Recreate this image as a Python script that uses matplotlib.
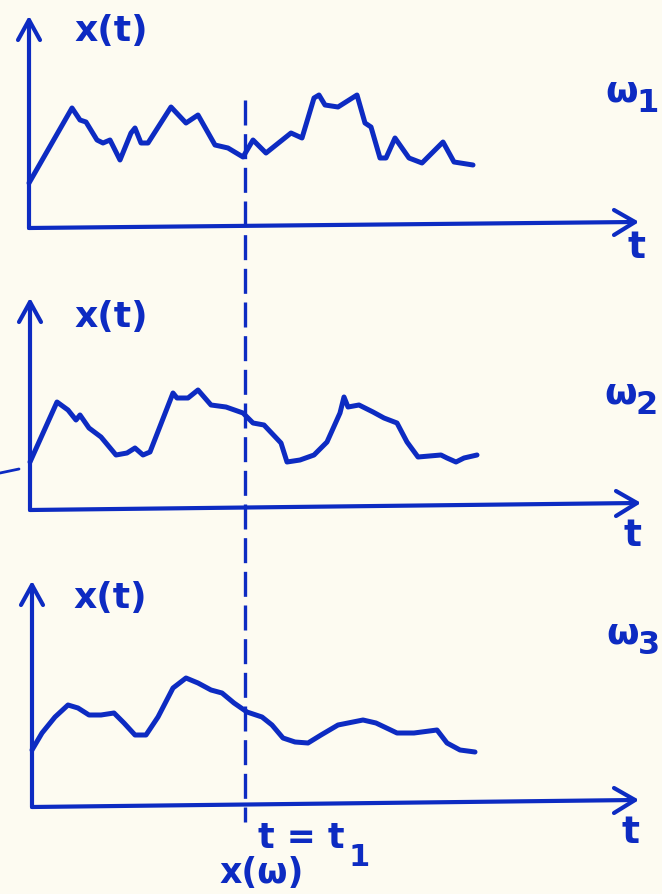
import matplotlib
matplotlib.use("Agg")
import matplotlib.pyplot as plt

# Sample paths x(t, w) (page pixel coordinates)
t_w1 = [29, 72, 80, 86, 97, 103, 110, 120, 131, 135, 141, 148, 171, 186, 198,
        215, 228, 243, 253, 266, 291, 302, 314, 319, 325, 338, 357, 365, 371,
        380, 386, 395, 409, 422, 443, 454, 473]
x_w1 = [183, 108, 120, 122, 140, 143, 140, 160, 133, 128, 143, 143, 107, 123, 115,
        145, 148, 157, 140, 153, 133, 138, 98, 95, 105, 107, 95, 123, 127,
        158, 158, 138, 158, 163, 142, 162, 165]

t_w2 = [30, 57, 68, 76, 80, 89, 101, 116, 127, 135, 143, 150, 173, 177, 188,
        198, 211, 226, 243, 253, 264, 281, 287, 300, 314, 327, 340, 344, 348,
        359, 373, 384, 397, 407, 418, 441, 447, 456, 464, 477]
x_w2 = [462, 402, 410, 420, 415, 428, 437, 455, 453, 448, 455, 452, 393, 398, 398,
        390, 405, 407, 413, 423, 425, 443, 462, 460, 455, 442, 413, 397, 407,
        405, 412, 418, 423, 442, 457, 455, 458, 462, 458, 455]

t_w3 = [32, 42, 55, 68, 78, 89, 101, 114, 124, 135, 146, 158, 173, 186, 198,
        211, 222, 234, 247, 262, 272, 283, 295, 308, 321, 338, 363, 376, 397,
        414, 437, 447, 460, 475]
x_w3 = [750, 733, 717, 705, 708, 715, 715, 713, 723, 735, 735, 717, 688, 678, 683,
        690, 693, 703, 712, 717, 725, 738, 742, 743, 735, 725, 720, 723, 733,
        733, 730, 743, 750, 752]

subscripts = ["1", "2", "3"]

blue = "#0d2bc2"
paper = "#fdfbf1"

# axes of each panel: origin, top of y arrow, tip of t arrow
origins = [(29, 228), (30, 510), (32, 807)]
y_tops = [20, 302, 585]
x_tips = [(635, 222), (637, 503), (635, 800)]
xt_label = [(111, 31), (111, 317), (110, 598)]
omega_pos = [(622, 92), (621, 393), (623, 634)]
t_pos = [(637, 248), (633, 536), (630, 833)]

fig = plt.figure(figsize=(6.62, 8.94), dpi=100, facecolor=paper)
ax = fig.add_axes([0, 0, 1, 1])
ax.set_facecolor(paper)
ax.set_xlim(0, 662)
ax.set_ylim(894, 0)
ax.axis("off")

lw_axis = 3.0
lw_path = 3.6
kw = dict(color=blue, solid_capstyle="round", solid_joinstyle="round")

for i, (tt, xx) in enumerate([(t_w1, x_w1), (t_w2, x_w2), (t_w3, x_w3)]):
    ox, oy = origins[i]
    # y axis with open arrow head
    ax.plot([ox, ox], [oy, y_tops[i]], lw=lw_axis, **kw)
    ax.plot([ox - 11, ox, ox + 11], [y_tops[i] + 20, y_tops[i], y_tops[i] + 20],
            lw=lw_axis, **kw)
    # t axis with open arrow head
    tx, ty = x_tips[i]
    ax.plot([ox, tx], [oy, ty], lw=lw_axis, **kw)
    ax.plot([tx - 21, tx, tx - 21], [ty - 12, ty, ty + 13], lw=lw_axis, **kw)
    # sample path
    ax.plot(tt, xx, lw=lw_path, **kw)

    ax.text(*xt_label[i], "x(t)", color=blue, fontsize=26, fontweight="bold",
            ha="center", va="center")
    ax.text(*t_pos[i], "t", color=blue, fontsize=27, fontweight="bold",
            ha="center", va="center")
    wx, wy = omega_pos[i]
    ax.text(wx, wy, "ω", color=blue, fontsize=27, fontweight="heavy",
            ha="center", va="center")
    ax.text(wx + 26, wy + 12, subscripts[i], color=blue, fontsize=23,
            fontweight="bold", ha="center", va="center")

# dashed cut at t = t1
ax.plot([245, 245], [100, 822], color=blue, lw=2.4, dashes=(7.5, 2.6))

ax.text(301, 838, "t = t", color=blue, fontsize=25, fontweight="bold",
        ha="center", va="center")
ax.text(359, 857, "1", color=blue, fontsize=22, fontweight="bold",
        ha="center", va="center")
ax.text(262, 873, "x(ω)", color=blue, fontsize=25, fontweight="bold",
        ha="center", va="center")

# stray pen mark at the left edge
ax.plot([0, 19], [473, 469], lw=2.0, **kw)

fig.savefig("out.png", dpi=100, facecolor=paper)
